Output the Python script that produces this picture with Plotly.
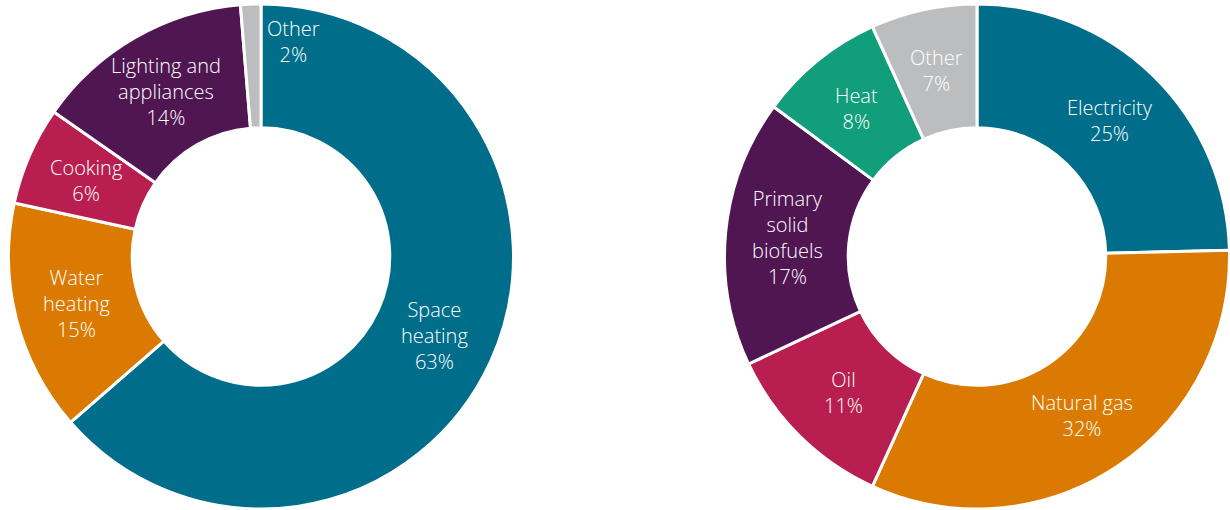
import math
import plotly.graph_objects as go

# ---- data ----
left_labels = ["Space heating", "Water heating", "Cooking", "Lighting and appliances", "Other"]
left_values = [63.6, 14.8, 6.3, 14.0, 1.3]
left_pct = ["63%", "15%", "6%", "14%", "2%"]
left_text = ["Space<br>heating", "Water<br>heating", "Cooking", "Lighting and<br>appliances", "Other"]

right_labels = ["Electricity", "Natural gas", "Oil", "Primary solid biofuels", "Heat", "Other"]
right_values = [24.6, 32.2, 11.2, 17.1, 8.1, 6.8]
right_pct = ["25%", "32%", "11%", "17%", "8%", "7%"]
right_text = ["Electricity", "Natural gas", "Oil", "Primary<br>solid<br>biofuels", "Heat", "Other"]

TEAL = "#006E8A"
ORANGE = "#DB7A00"
MAGENTA = "#B81F50"
PURPLE = "#4F1652"
GREEN = "#109E7B"
GRAY = "#BCBDBF"
left_colors = [TEAL, ORANGE, MAGENTA, PURPLE, GRAY]
right_colors = [TEAL, ORANGE, MAGENTA, PURPLE, GREEN, GRAY]

W, H = 1230, 510
HOLE = 0.51
FONT = dict(family="Open Sans, sans-serif", size=20, color="white", weight=300)

# pie geometry in pixels (left, right): x0, x1, top, bottom
geoms = [(8, 514, 4, 509), (724, 1230, 4, 509)]

fig = go.Figure()
annotations = []


def add_donut(labels, values, texts, pcts, colors, geom, special=None):
    x0, x1, top, bot = geom
    fig.add_trace(go.Pie(
        labels=labels, values=values, hole=HOLE, sort=False, direction="clockwise",
        rotation=0, textinfo="none", hoverinfo="label",
        marker=dict(colors=colors, line=dict(color="white", width=3)),
        domain=dict(x=[x0 / W, x1 / W], y=[1 - bot / H, 1 - top / H]),
        showlegend=False,
    ))
    cx, cy = (x0 + x1) / 2, (top + bot) / 2
    R = min(x1 - x0, bot - top) / 2
    rmid = R * (1 + HOLE) / 2
    total = sum(values)
    cum = 0
    for i, (t, v, p) in enumerate(zip(texts, values, pcts)):
        mid = (cum + v / 2) / total * 360
        r = rmid
        if special and i in special:
            mid, r = special[i][0], R * special[i][1]
        cum += v
        a = math.radians(mid)
        px = cx + r * math.sin(a)
        py = cy - r * math.cos(a)
        annotations.append(dict(
            x=px / W, y=1 - py / H, xref="paper", yref="paper",
            text=f"{t}<br>{p}", showarrow=False, font=FONT,
            xanchor="center", yanchor="middle", align="center",
        ))


# small 'Other' slice on the left is labelled just beside it
add_donut(left_labels, left_values, left_text, left_pct, left_colors, geoms[0], special={4: (8.5, 0.86)})
add_donut(right_labels, right_values, right_text, right_pct, right_colors, geoms[1])

fig.update_layout(
    width=W, height=H, margin=dict(l=0, r=0, t=0, b=0),
    paper_bgcolor="white", plot_bgcolor="white",
    annotations=annotations,
)
fig.write_html("out.html")
